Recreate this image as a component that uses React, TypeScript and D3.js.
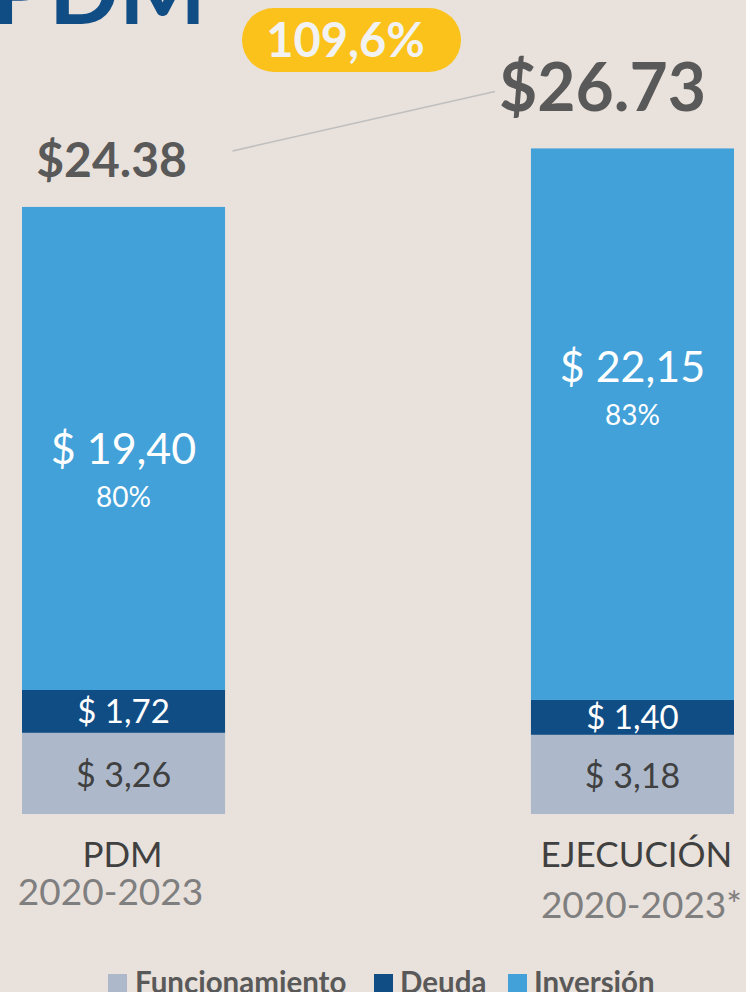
import React from "react";
import * as d3 from "d3";

const categories = ["PDM", "EJECUCIÓN"];
const periods = ["2020-2023", "2020-2023*"];
const seriesKeys = ["Funcionamiento", "Deuda", "Inversión"];
const funcionamiento = [3.26, 3.18];
const deuda = [1.72, 1.4];
const inversion = [19.4, 22.15];
const totals = [24.38, 26.73];
const inversionShare = ["80%", "83%"];
const growthLabel = "109,6%";
const titleText = "PDM";

const W = 746;
const H = 992;
const FONT = "Lato, 'Open Sans', sans-serif";
const colors: Record<string, string> = {
  Funcionamiento: "#ADB9CB",
  Deuda: "#114D85",
  Inversión: "#43A1D9",
};

const fmtComma = (v: number) => `$ ${v.toFixed(2).replace(".", ",")}`;
const fmtDot = (v: number) => `$${v.toFixed(2)}`;

export default function App() {
  const rows = categories.map((c, i) => ({
    cat: c,
    Funcionamiento: funcionamiento[i],
    Deuda: deuda[i],
    Inversión: inversion[i],
  }));
  const stack = d3.stack<any>().keys(seriesKeys)(rows);

  const x = d3.scaleBand<string>().domain(categories).range([22, 734]).paddingInner(0.601).paddingOuter(0);
  const y = d3.scaleLinear().domain([0, 27]).range([814, 814 - 27 * 24.9]);
  const bw = x.bandwidth();
  const cx = (c: string) => (x(c) as number) + bw / 2;

  // per-bar layout tweaks (label offsets)
  const invLabelShift = [0, -58];
  const totalShift = [{ dx: -12, dy: -30 }, { dx: -30, dy: -37 }];
  const periodShift = [-13, 9];
  const catShift = [-1, 4];

  const top0 = y(totals[0]);
  const top1 = y(totals[1]);

  const legendItems = [
    { key: "Funcionamiento", sx: 108, tx: 135 },
    { key: "Deuda", sx: 374, tx: 400 },
    { key: "Inversión", sx: 508, tx: 534 },
  ];

  return (
    <svg
      width={W}
      height={H}
      style={{ position: "absolute", left: 0, top: 0, display: "block" }}
      fontFamily={FONT}
    >
      <rect x={0} y={0} width={W} height={H} fill="#E9E1DB" />
      <text x={206} y={24} textAnchor="end" fontWeight={700} fontSize={92} fill="#114D85">
        {titleText}
      </text>

      <rect x={242} y={8} width={219} height={64} rx={32} ry={32} fill="#FBC21B" />
      <text x={345.5} y={57} textAnchor="middle" fontWeight={700} fontSize={47} fill="#F2F2F2">
        {growthLabel}
      </text>

      <line
        x1={cx(categories[0]) + 109}
        y1={top0 - 56}
        x2={(x(categories[1]) as number) - 36}
        y2={top1 - 57}
        stroke="#BFBFBF"
        strokeWidth={1.5}
      />

      {stack.map((s) =>
        s.map((d, i) => (
          <rect
            key={s.key + i}
            x={x(categories[i])}
            y={y(d[1])}
            width={bw}
            height={y(d[0]) - y(d[1])}
            fill={colors[s.key]}
          />
        ))
      )}

      {categories.map((c, i) => {
        const fs = stack[0][i];
        const ds = stack[1][i];
        const is = stack[2][i];
        const fMid = (y(fs[0]) + y(fs[1])) / 2;
        const dMid = (y(ds[0]) + y(ds[1])) / 2;
        const iMid = (y(is[0]) + y(is[1])) / 2 + invLabelShift[i];
        return (
          <g key={c}>
            <text x={cx(c)} y={fMid + 13.5} textAnchor="middle" fontSize={34} fill="#404040">
              {fmtComma(funcionamiento[i])}
            </text>
            <text x={cx(c)} y={dMid + 12} textAnchor="middle" fontSize={33} fill="#FFFFFF">
              {fmtComma(deuda[i])}
            </text>
            <text x={cx(c)} y={iMid + 16} textAnchor="middle" fontSize={43} fill="#FFFFFF">
              {fmtComma(inversion[i])}
            </text>
            <text x={cx(c)} y={iMid + 59} textAnchor="middle" fontSize={28} fill="#FFFFFF">
              {inversionShare[i]}
            </text>
            <text
              x={cx(c) + totalShift[i].dx}
              y={y(totals[i]) + totalShift[i].dy}
              textAnchor="middle"
              fontWeight={700}
              fontSize={i === 0 ? 48 : 66}
              fill="#595959"
            >
              {fmtDot(totals[i])}
            </text>
            <text x={cx(c) + catShift[i]} y={867} textAnchor="middle" fontSize={35} fill="#404040">
              {c}
            </text>
            <text x={cx(c) + periodShift[i]} y={i === 0 ? 905 : 918} textAnchor="middle" fontSize={37} fill="#7F7F7F">
              {periods[i]}
            </text>
          </g>
        );
      })}

      {legendItems.map((l) => (
        <g key={l.key}>
          <rect x={l.sx} y={974} width={19} height={19} fill={colors[l.key]} />
          <text x={l.tx} y={993} fontWeight={700} fontSize={29.5} fill="#595959">
            {l.key}
          </text>
        </g>
      ))}
    </svg>
  );
}
